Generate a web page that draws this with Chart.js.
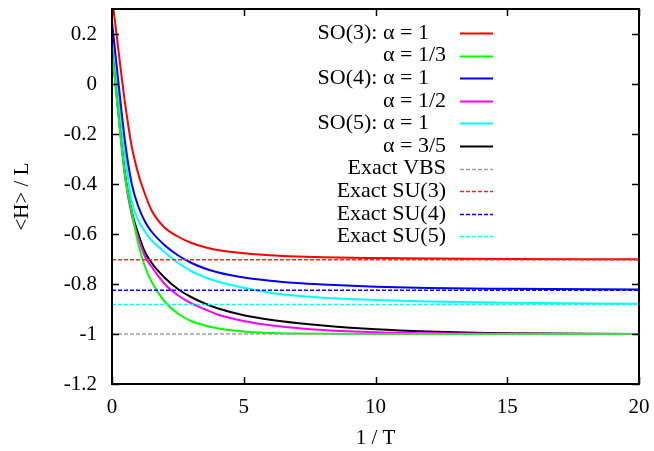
<!DOCTYPE html>
<html>
<head>
<meta charset="utf-8">
<script src="https://cdn.jsdelivr.net/npm/chart.js@4"></script>
<style>
  html, body { margin: 0; padding: 0; background: #fff; }
  #wrap { width: 654px; height: 451px; }
</style>
</head>
<body>
<div id="wrap"><canvas id="chart-energia" width="654" height="451"></canvas></div>
<script>
const invT = [0, 0.25, 0.5, 0.75, 1, 1.25, 1.5, 2, 2.5, 3, 3.5, 4, 5, 6, 7, 8, 10, 12, 15, 20];

const so3a1  = [0.35, 0.13, -0.08, -0.25, -0.36, -0.44, -0.505, -0.575, -0.61, -0.635, -0.652, -0.664, -0.677, -0.685, -0.69, -0.693, -0.696, -0.698, -0.7, -0.701];
const so3a13 = [0.14, -0.13, -0.37, -0.51, -0.64, -0.73, -0.79, -0.87, -0.918, -0.948, -0.965, -0.977, -0.99, -0.996, -0.998, -0.999, -1.0, -1.0, -1.0, -1.0];
const so4a1  = [0.25, 0.0, -0.235, -0.4, -0.49, -0.55, -0.59, -0.645, -0.685, -0.715, -0.737, -0.753, -0.774, -0.787, -0.796, -0.802, -0.811, -0.816, -0.819, -0.822];
const so4a12 = [0.14, -0.13, -0.375, -0.525, -0.615, -0.69, -0.73, -0.8, -0.845, -0.877, -0.9, -0.922, -0.948, -0.965, -0.976, -0.984, -0.993, -0.997, -0.999, -1.0];
const so5a1  = [0.22, -0.06, -0.29, -0.47, -0.545, -0.59, -0.625, -0.672, -0.715, -0.748, -0.772, -0.79, -0.815, -0.835, -0.847, -0.855, -0.864, -0.87, -0.875, -0.879];
const so5a35 = [0.15, -0.12, -0.365, -0.51, -0.6, -0.672, -0.715, -0.775, -0.82, -0.852, -0.877, -0.897, -0.925, -0.943, -0.956, -0.966, -0.981, -0.99, -0.997, -1.0];

// exact ground-state energies (horizontal dashed lines)
const exactNames  = ['Exact VBS', 'Exact SU(3)', 'Exact SU(4)', 'Exact SU(5)'];
const exactValues = [-1.0, -0.703, -0.825, -0.882];

const curveNames = ['SO(3): \u03b1 = 1', '\u03b1 = 1/3', 'SO(4): \u03b1 = 1', '\u03b1 = 1/2', 'SO(5): \u03b1 = 1', '\u03b1 = 3/5'];
const curveColors = ['#ff0000', '#00ff00', '#0000ff', '#ff00ff', '#00ffff', '#000000'];
const exactColors = ['#a0a0a0', '#ff2020', '#0000ff', '#00ffff'];

const xTicks = [0, 5, 10, 15, 20];
const yTicks = [-1.2, -1, -0.8, -0.6, -0.4, -0.2, 0, 0.2];

const fuente = 'Liberation Serif, Times New Roman, serif';

const curves = [so3a1, so3a13, so4a1, so4a12, so5a1, so5a35];
const datasets = [];
curves.forEach((serie, i) => {
    datasets.push({
        label: curveNames[i],
        data: serie.map((v, k) => ({ x: invT[k], y: v })),
        borderColor: curveColors[i],
        borderWidth: 2,
        pointRadius: 0,
        fill: false,
        cubicInterpolationMode: 'monotone',
        order: 1
    });
});
exactValues.forEach((v, i) => {
    datasets.push({
        label: exactNames[i],
        data: [{ x: xTicks[0], y: v }, { x: xTicks[xTicks.length - 1], y: v }],
        borderColor: exactColors[i],
        borderWidth: 1.3,
        borderDash: [4, 2],
        pointRadius: 0,
        fill: false,
        order: 0
    });
});

// gnuplot style: frame, inward ticks on the four sides, key at top right
const marco = {
    id: 'marco',
    afterDraw(chart) {
        const { ctx, chartArea: a, scales } = chart;
        ctx.save();
        ctx.strokeStyle = '#000';
        ctx.lineWidth = 1.5;
        const tl = 7;
        ctx.beginPath();
        xTicks.forEach(t => {
            const px = Math.round(scales.x.getPixelForValue(t)) + 0.5;
            ctx.moveTo(px, a.bottom); ctx.lineTo(px, a.bottom - tl);
            ctx.moveTo(px, a.top); ctx.lineTo(px, a.top + tl);
        });
        yTicks.forEach(t => {
            const py = Math.round(scales.y.getPixelForValue(t)) + 0.5;
            ctx.moveTo(a.left, py); ctx.lineTo(a.left + tl, py);
            ctx.moveTo(a.right, py); ctx.lineTo(a.right - tl, py);
        });
        ctx.stroke();
        ctx.lineWidth = 2;
        ctx.strokeRect(a.left, a.top, a.right - a.left, a.bottom - a.top);

        // key: alpha parts line up, prefixes sit to their left
        const textRight = a.right - 193;
        const x1 = a.right - 179, x2 = a.right - 146;
        ctx.font = '22px ' + fuente;
        ctx.fillStyle = '#000';
        ctx.textBaseline = 'middle';
        const alphaX = textRight - ctx.measureText(curveNames[1]).width;
        chart.data.datasets.forEach((ds, i) => {
            const y = a.top + 24 + i * 22.6;
            const k = ds.label.indexOf('\u03b1');
            if (k >= 0) {
                ctx.textAlign = 'left';
                ctx.fillText(ds.label.slice(k), alphaX, y);
                if (k > 0) {
                    ctx.textAlign = 'right';
                    ctx.fillText(ds.label.slice(0, k), alphaX, y);
                }
            } else {
                ctx.textAlign = 'right';
                ctx.fillText(ds.label, textRight, y);
            }
            ctx.strokeStyle = ds.borderColor;
            ctx.lineWidth = ds.borderWidth;
            ctx.setLineDash(ds.borderDash || []);
            ctx.beginPath();
            ctx.moveTo(x1, Math.round(y) + 0.5);
            ctx.lineTo(x2, Math.round(y) + 0.5);
            ctx.stroke();
        });
        ctx.restore();
    }
};

const ctx = document.getElementById('chart-energia').getContext('2d');
const chart = new Chart(ctx, {
    type: 'line',
    data: { datasets: datasets },
    plugins: [marco],
    options: {
        responsive: false,
        animation: false,
        devicePixelRatio: 1,
        layout: { padding: { top: 9, right: 15, left: 0, bottom: 0 } },
        plugins: {
            legend: { display: false },
            tooltip: { enabled: false }
        },
        scales: {
            x: {
                type: 'linear',
                min: 0,
                max: 20,
                afterBuildTicks: s => { s.ticks = xTicks.map(v => ({ value: v })); },
                afterFit: s => { s.height = 67; s.paddingLeft = 0; s.paddingRight = 0; },
                grid: { display: false, drawTicks: false },
                border: { display: false },
                ticks: {
                    color: '#000',
                    padding: 11,
                    maxRotation: 0,
                    font: { family: fuente, size: 21 },
                    callback: v => String(v)
                },
                title: {
                    display: true,
                    text: '1 / T',
                    color: '#000',
                    padding: { top: 0, bottom: 0 },
                    font: { family: fuente, size: 21 }
                }
            },
            y: {
                type: 'linear',
                min: -1.2,
                max: 0.3,
                afterBuildTicks: s => { s.ticks = yTicks.map(v => ({ value: v })); },
                afterFit: s => { s.width = 112; s.paddingTop = 0; s.paddingBottom = 0; },
                grid: { display: false, drawTicks: false },
                border: { display: false },
                ticks: {
                    color: '#000',
                    padding: 15,
                    font: { family: fuente, size: 21 },
                    callback: v => String(Number(v.toFixed(1)))
                },
                title: {
                    display: true,
                    text: '<H> / L',
                    color: '#000',
                    padding: { top: 10, bottom: 0 },
                    font: { family: fuente, size: 21 }
                }
            }
        }
    }
});
</script>
</body>
</html>
